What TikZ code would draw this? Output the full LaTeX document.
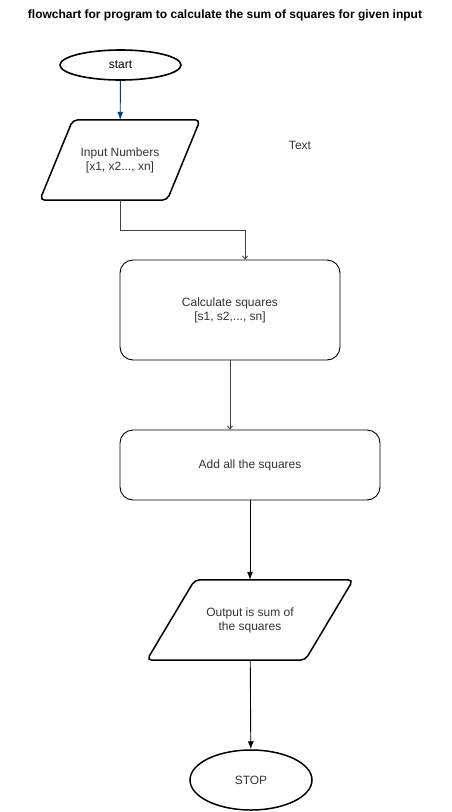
\documentclass[tikz,border=0pt]{standalone}
\usepackage{fontspec}
\setmainfont{Liberation Sans}
\usetikzlibrary{shapes.geometric}
\usetikzlibrary{arrows.meta}
\tikzset{>=Latex}
\colorlet{mytext}{black!80}
\colorlet{mylink}{black!75}
\definecolor{mydarkblue}{RGB}{0,60,120}

\tikzset{
    term/.style={ellipse, draw, line width=1.6pt, inner sep=0pt},
    io/.style={rectangle, inner sep=0pt, align=center, text=mytext},
    iobox/.style={draw, line width=1.5pt, rounded corners=5pt},
    proc/.style={rectangle, draw, line width=0.9pt, rounded corners=13pt, align=center, text=mytext},
    link/.style={line width=0.9pt, -{Latex[length=8pt, width=6pt]}},
}

% parallelogram round node #1, slant #2
\newcommand{\ioshape}[2]{
    \draw[iobox] ([xshift=#2]#1.north west) -- (#1.north east)
        -- ([xshift=-#2]#1.south east) -- (#1.south west) -- cycle;
}

\begin{document}
\begin{tikzpicture}[x=1pt, y=-1pt, font=\fontsize{12}{14}\selectfont]

    \useasboundingbox[fill=white] (0,0) rectangle (452,812);

    \node[font=\bfseries\fontsize{12}{14}\selectfont] (title) at (225,15)
        {flowchart for program to calculate the sum of squares for given input};

    \node[term, minimum width=121pt, minimum height=30pt] (start) at (120.5,65) {start};
    \node[io, minimum width=160pt, minimum height=80pt] (inp) at (120,160)
        {Input Numbers\\{}[x1, x2..., xn]};
    \ioshape{inp}{33pt}
    \node[text=mytext] (txt) at (300,145) {Text};
    \node[proc, minimum width=220pt, minimum height=100pt] (calc) at (230,310)
        {Calculate squares\\{}[s1, s2,..., sn]};
    \node[proc, minimum width=260pt, minimum height=70pt] (add) at (250,465)
        {Add all the squares};
    \node[io, minimum width=206pt, minimum height=80pt] (out) at (250,620)
        {Output is sum of\\the squares};
    \ioshape{out}{48pt}
    \node[term, line width=1.5pt, minimum width=122pt, minimum height=60pt, text=mytext] (stop) at (251,780) {STOP};

    \coordinate (bend) at (245,230);

    \draw[link, mydarkblue] (start) -- (inp);
    \draw[line width=0.8pt, mylink, -{Straight Barb[length=3pt, width=5pt]}] (inp.south) |- (bend) -- (bend |- calc.north);
    \draw[line width=0.8pt, mylink, -{Straight Barb[length=3pt, width=5pt]}] (calc.south) -- (calc.south |- add.north);
    \draw[link] (add) -- (out);
    \draw[link] (out) -- (stop);

\end{tikzpicture}
\end{document}
